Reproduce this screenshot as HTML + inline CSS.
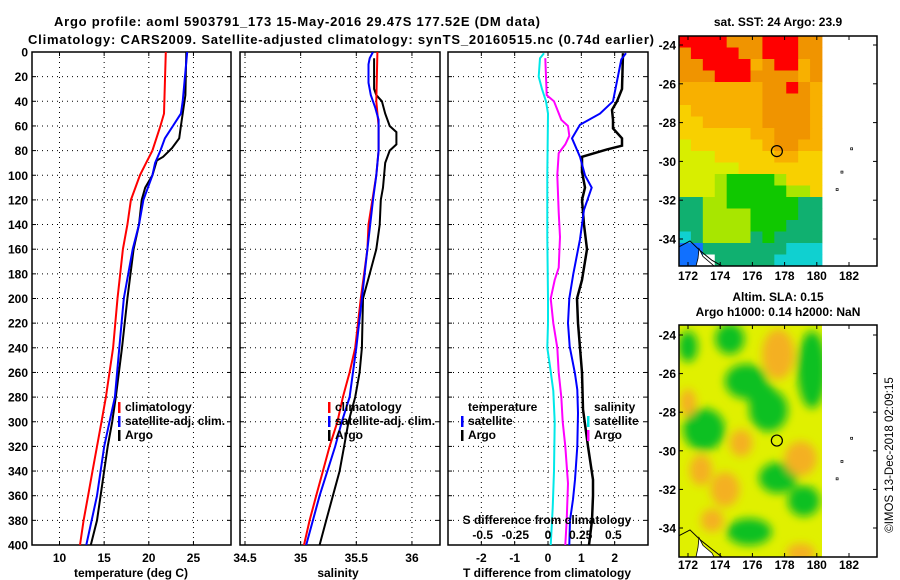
<!DOCTYPE html>
<html><head><meta charset="utf-8"><style>
html,body{margin:0;padding:0;background:#fff;}
svg{display:block;font-family:"Liberation Sans",sans-serif;font-weight:bold;}
</style></head><body>
<svg id="fig" width="900" height="580" viewBox="0 0 900 580" xmlns="http://www.w3.org/2000/svg">
<defs>
<clipPath id="c1"><rect x="32" y="52" width="199" height="493"/></clipPath>
<clipPath id="c2"><rect x="240" y="52" width="200" height="493"/></clipPath>
<clipPath id="c3"><rect x="448" y="52" width="200" height="493"/></clipPath>
<clipPath id="cm2"><rect x="679" y="325" width="143" height="232"/></clipPath>
<filter id="blur" x="-50%" y="-50%" width="200%" height="200%"><feGaussianBlur stdDeviation="4.5"/></filter>
</defs>
<text x="297" y="26" font-size="13" text-anchor="middle" textLength="486">Argo profile: aoml 5903791_173 15-May-2016 29.47S 177.52E (DM data)</text>
<text x="341" y="44" font-size="13" text-anchor="middle" textLength="626">Climatology: CARS2009. Satellite-adjusted climatology: synTS_20160515.nc (0.74d earlier)</text>
<g id="root"></g>
<text transform="translate(893,455) rotate(-90)" font-size="11.5" font-weight="normal" text-anchor="middle">©IMOS 13-Dec-2018 02:09:15</text>
</svg>
<script>
// ---------- data ----------
const depthTicks = [0,20,40,60,80,100,120,140,160,180,200,220,240,260,280,300,320,340,360,380,400];
const tTicks = [10,15,20,25];
const sTicks = [34.5,35,35.5,36];
const tdTicks = [-2,-1,0,1,2];
const sdTicks = [-0.5,-0.25,0,0.25,0.5];
const sdTickLabels = ["-0.5","-0.25","0","0.25","0.5"];

const tClimDepth = [0,50,60,80,90,100,110,120,140,160,200,240,260,280,300,320,340,360,380,400];
const tClim      = [21.9,21.7,21.3,20.4,19.7,19.0,18.5,18.0,17.6,17.1,16.5,16.0,15.6,15.2,14.7,14.2,13.7,13.2,12.7,12.3];
const tSatDepth = [0,40,50,60,70,80,90,100,120,140,160,200,240,280,300,320,360,400];
const tSat      = [24.3,23.8,23.6,22.7,21.8,21.3,20.7,20.4,19.4,18.9,18.2,17.2,16.7,16.2,15.6,15.0,14.2,13.0];
const tArgoDepth = [0,35,60,70,78,85,88,100,110,120,140,160,200,240,280,300,320,360,380,400];
const tArgo      = [24.2,24.1,23.6,23.4,22.6,21.6,20.9,20.4,19.6,19.2,18.9,18.3,17.6,17.0,16.3,15.9,15.4,14.6,14.2,13.5];

const sClimDepth = [0,40,60,80,100,140,160,200,240,260,280,300,320,340,360,380,400];
const sClim      = [35.69,35.68,35.70,35.70,35.68,35.61,35.60,35.54,35.49,35.44,35.38,35.33,35.26,35.20,35.14,35.08,35.03];
const sSatDepth = [0,5,10,25,35,45,55,80,100,120,160,200,240,280,300,320,360,400];
const sSat      = [35.65,35.62,35.61,35.61,35.63,35.67,35.70,35.70,35.68,35.65,35.60,35.55,35.50,35.44,35.37,35.31,35.17,35.05];
const sArgoDepth = [5,30,35,40,50,60,65,75,80,90,100,110,120,140,160,180,200,240,260,280,300,320,340,360,380,400];
const sArgo      = [35.66,35.66,35.68,35.73,35.76,35.80,35.86,35.86,35.80,35.76,35.75,35.74,35.72,35.71,35.68,35.62,35.56,35.55,35.53,35.49,35.43,35.39,35.35,35.29,35.23,35.17];

const dtSatDepth = [1,6,40,50,59,70,85,100,110,128,152,180,200,220,239,261,274,293,320,347,363,380,400];
const dtSat      = [2.34,2.2,1.95,1.56,0.96,0.72,0.96,1.11,1.31,1.08,0.96,0.76,0.64,0.6,0.65,0.81,0.88,0.9,0.88,0.81,0.75,0.66,0.64];
const dtArgoDepth = [1,30,40,47,55,62,70,76,79,85,97,110,120,130,140,160,185,200,220,240,260,290,320,347,360,380,400];
const dtArgo      = [2.25,2.22,2.07,1.92,1.95,1.95,2.22,2.22,1.77,1.02,1.02,1.11,1.02,1.05,1.08,1.17,1.02,0.87,0.9,0.96,1.02,1.05,1.2,1.35,1.35,1.32,1.23];
const dsSatDepth = [1,5,20,30,40,50,100,150,200,220,240,255,275,300,340,370,400];
const dsSat      = [-0.03,-0.06,-0.07,-0.045,-0.015,0,-0.005,-0.005,0,0,-0.005,0.015,0.04,0.05,0.045,0.035,0.02];
const dsArgoDepth = [5,20,35,40,55,60,68,75,82,100,130,150,175,185,200,220,240,260,280,300,320,350,380,400];
const dsArgo      = [-0.02,-0.015,-0.01,0.045,0.1,0.15,0.16,0.13,0.08,0.07,0.08,0.09,0.08,0.05,0.02,0.04,0.07,0.08,0.1,0.11,0.13,0.15,0.14,0.13];

const lonTicks = [172,174,176,178,180,182];
const latTicks = [-24,-26,-28,-30,-32,-34];
const argoLon = 177.52, argoLat = -29.47;
const sstTitle = "sat. SST: 24 Argo: 23.9";
const slaTitle1 = "Altim. SLA: 0.15";
const slaTitle2 = "Argo h1000: 0.14 h2000: NaN";
const sstGrid = [
"RRRROOORRROO","ORRRROORRROO","OORRRRoORRoO","OOORRROOOOoO",
"oooooooOOROo","oooooooOOOOo","YooooooOOOOo","YYoooooOOOOo",
"YYYYYYooOOOo","yYYYYYYoOOoo","yyyYYYYYooYY","yyyyyYYYYYYY",
"yyyLGGGGLYYY","yyyLGGGGGLLY","ggLLGGGGGGgg","ggLLLLGGGGgg",
"ggLLLLGGGggg","CgLLLLgGgggg","BBgggggggCCC","BBWgggggCCCC"];
const sstColors = {R:"#ff0000",O:"#f09400",o:"#f8b000",Y:"#f8d000",y:"#d8ee00",L:"#a8e600",G:"#10c800",g:"#10b070",C:"#10d0d0",B:"#1070ff",W:"#ffffff"};
const slaLon  = [173.0,175.6,177.0,179.7,174.6,177.6,179.2,175.8,172.0,176.6, 177.6,175.3,172.8,174.3,179.0,172.0,179.0,173.5];
const slaLat  = [-28.9,-26.4,-27.9,-25.8,-24.2,-31.4,-32.6,-34.2,-24.6,-27.2, -25.0,-29.6,-31.0,-32.0,-30.4,-27.5,-35.3,-33.6];
const slaRlon = [1.3,1.3,1.2,0.9,0.9,1.2,1.0,1.4,0.6,0.9, 1.0,0.7,0.7,0.9,1.0,0.5,0.9,0.7];
const slaRlat = [1.1,0.9,1.1,2.0,0.8,0.8,0.8,0.7,0.8,0.8, 1.3,0.7,0.8,0.9,0.9,0.7,0.5,0.6];
const slaKind = ["G","G","G","G","G","G","G","G","G","G","O","O","O","O","O","O","O","O"];

// ---------- helpers ----------
const NS="http://www.w3.org/2000/svg";
const root=document.getElementById('root');
function mk(tag,attrs,parent){const e=document.createElementNS(NS,tag);for(const k in attrs)e.setAttribute(k,attrs[k]);(parent||root).appendChild(e);return e;}
function txt(x,y,s,size,anchor,parent){const e=mk('text',{x:x,y:y,'font-size':size,'text-anchor':anchor||'middle'},parent);e.textContent=s;return e;}
const Y0=52,Y1=545;
const yD=d=>Y0+d*(Y1-Y0)/400;
const xT=t=>59.5+(t-10)*8.93;
const xS=s=>245+(s-34.5)*111.3;
const xDT=v=>548+v*33.33;
const xDS=v=>548+v*133.3;

function panel(x0,x1,name,labelsLeft){
  const g=mk('g',{});
  
  
  depthTicks.forEach(d=>{
    if(d>0&&d<400){const l=mk('line',{x1:x0,x2:x1,y1:yD(d),y2:yD(d),stroke:'#000','stroke-width':1,'stroke-dasharray':'1,4'},g);
      
      }
    mk('line',{x1:x0,x2:x0+4,y1:yD(d),y2:yD(d),stroke:'#000'},g);
    mk('line',{x1:x1-4,x2:x1,y1:yD(d),y2:yD(d),stroke:'#000'},g);
    if(labelsLeft){const t=txt(28,yD(d)+4.5,String(d),12,'end',g);
      
      }
  });
  const r=mk('rect',{x:x0,y:Y0,width:x1-x0,height:Y1-Y0,fill:'none',stroke:'#000','stroke-width':1.5},g);
  
  
  return g;
}
function vgrid(g,xs,fn){xs.forEach(v=>{const x=fn(v);
  const l=mk('line',{x1:x,x2:x,y1:Y0,y2:Y1,stroke:'#000','stroke-dasharray':'1,4'},g);
  
  
  mk('line',{x1:x,x2:x,y1:Y1-4,y2:Y1,stroke:'#000'},g);
  mk('line',{x1:x,x2:x,y1:Y0,y2:Y0+4,stroke:'#000'},g);});}
function series(g,depths,vals,fn,color,w,name,clip){
  const pts=depths.map((d,i)=>fn(vals[i]).toFixed(1)+','+yD(d).toFixed(1)).join(' ');
  const p=mk('polyline',{points:pts,fill:'none',stroke:color,'stroke-width':w,'clip-path':'url(#'+clip+')'},g);
  
  
}
function legendEntry(g,x,y,color,label,name){
  if(color)mk('rect',{x:x,y:y-9,width:2.5,height:11,fill:color},g);
  const t=txt(x+7,y,label,12,'start',g);
  
  
}

// ---------- panel 1 ----------
const g1=panel(32,231,'temperature-panel',true);
vgrid(g1,tTicks,xT);
tTicks.forEach(v=>{const t=txt(xT(v),562,String(v),12,'middle',g1);});
{const t=txt(131,577,'temperature (deg C)',12,'middle',g1);}
series(g1,tClimDepth,tClim,xT,'#ff0000',2,'temperature-climatology-line','c1');
series(g1,tArgoDepth,tArgo,xT,'#000',2,'temperature-argo-line','c1');
series(g1,tSatDepth,tSat,xT,'#0000ff',2,'temperature-satellite-line','c1');
legendEntry(g1,118,411,'#ff0000','climatology','legend-entry-climatology');
legendEntry(g1,118,425,'#0000ff','satellite-adj. clim.','legend-entry-satellite-adj');
legendEntry(g1,118,439,'#000','Argo','legend-entry-argo');

// ---------- panel 2 ----------
const g2=panel(240,440,'salinity-panel',false);
vgrid(g2,sTicks,xS);
sTicks.forEach(v=>{const t=txt(xS(v),562,String(v),12,'middle',g2);});
{const t=txt(338,577,'salinity',12,'middle',g2);}
series(g2,sArgoDepth,sArgo,xS,'#000',2,'salinity-argo-line','c2');
series(g2,sClimDepth,sClim,xS,'#ff0000',2,'salinity-climatology-line','c2');
series(g2,sSatDepth,sSat,xS,'#0000ff',2,'salinity-satellite-line','c2');
legendEntry(g2,328,411,'#ff0000','climatology','legend-entry-climatology');
legendEntry(g2,328,425,'#0000ff','satellite-adj. clim.','legend-entry-satellite-adj');
legendEntry(g2,328,439,'#000','Argo','legend-entry-argo');

// ---------- panel 3 ----------
const g3=panel(448,648,'difference-panel',false);
vgrid(g3,tdTicks,xDT);
tdTicks.forEach(v=>{const t=txt(xDT(v),562,String(v),12,'middle',g3);});
{const t=txt(547,577,'T difference from climatology',12,'middle',g3);}
series(g3,dsSatDepth,dsSat,xDS,'#00e8e8',2,'salinity-diff-satellite-line','c3');
series(g3,dsArgoDepth,dsArgo,xDS,'#ff00ff',2,'salinity-diff-argo-line','c3');
series(g3,dtArgoDepth,dtArgo,xDT,'#000',2.5,'temperature-diff-argo-line','c3');
series(g3,dtSatDepth,dtSat,xDT,'#0000ff',2,'temperature-diff-satellite-line','c3');
legendEntry(g3,461,411,null,'temperature','legend-title-temperature');
legendEntry(g3,461,425,'#0000ff','satellite','legend-entry-t-satellite');
legendEntry(g3,461,439,'#000','Argo','legend-entry-t-argo');
legendEntry(g3,587,411,null,'salinity','legend-title-salinity');
legendEntry(g3,587,425,'#00e8e8','satellite','legend-entry-s-satellite');
legendEntry(g3,587,439,'#ff00ff','Argo','legend-entry-s-argo');
{const t=txt(547,524,'S difference from climatology',12,'middle',g3);}
sdTicks.forEach((v,i)=>{const t=txt(548+v*133.3*0.98,539,sdTickLabels[i],12,'middle',g3);});

// ---------- maps ----------
const MX0=679,MX1=877,DX1=822;
const lonX=l=>688+(l-172)*16.1;
function mapFrame(lat24,sc,name,titleLines,titleYs){
  const latY=l=>lat24+(-24-l)*sc;
  const g=mk('g',{});
  
  
  titleLines.forEach((s,i)=>{const t=txt(778,titleYs[i],s,12,'middle',g);});
  return {g,latY};
}
const m1=mapFrame(45,19.4,'sst-map',[sstTitle],[26]);
{
  const cw=(DX1-MX0)/12, ch=(266-36)/20;
  sstGrid.forEach((row,r)=>{[...row].forEach((c,k)=>{
    const cell=mk('rect',{x:(MX0+k*cw).toFixed(2),y:(36+r*ch).toFixed(2),width:(cw+0.4).toFixed(2),height:(ch+0.4).toFixed(2),fill:sstColors[c]},m1.g);
    
    
  });});
}
const m2=mapFrame(335,19.3,'sla-map',[slaTitle1,slaTitle2],[301,316]);
{
  const bg=mk('rect',{x:MX0,y:325,width:DX1-MX0,height:232,fill:'#e0f000'},m2.g);
  
  
  const bl=mk('g',{'clip-path':'url(#cm2)'},m2.g);
  const bf=mk('g',{filter:'url(#blur)'},bl);
  slaLon.forEach((lo,i)=>{
    const e=mk('ellipse',{cx:lonX(lo),cy:m2.latY(slaLat[i]),rx:slaRlon[i]*16.1,ry:slaRlat[i]*19.3,fill:slaKind[i]==='G'?'#10c020':'#f4b020'},bf);
    
    
  });
}
[[m1,36,266,45,19.4,280],[m2,325,557,335,19.3,569]].forEach(([m,top,bot,y24,sc,ly])=>{
  const g=m.g, latY=l=>y24+(-24-l)*sc;
  mk('path',{d:`M679,${latY(-34.4)} L690,${latY(-34.1)} L700,${latY(-34.6)} L712,${latY(-35.1)} L722,${bot} L679,${bot} Z`,fill:'none',stroke:'#000'},g);
  const land=mk('path',{d:`M699,${latY(-34.5)} L703,${latY(-34.9)} L712,${latY(-35.3)} L714,${bot} L696,${bot} L698,${latY(-35.0)} Z`,fill:'#fff',stroke:'#000','stroke-width':0.8},g);
  
  
  mk('rect',{x:MX0,y:top,width:MX1-MX0,height:bot-top,fill:'none',stroke:'#000','stroke-width':1.5},g);
  [[182.1,-29.3],[181.5,-30.5],[181.2,-31.4]].forEach(p=>mk('rect',{x:lonX(p[0]),y:latY(p[1]),width:2,height:2,fill:'none',stroke:'#000','stroke-width':0.7},g));
  lonTicks.forEach(l=>{const x=lonX(l);
    mk('line',{x1:x,x2:x,y1:top,y2:top+4,stroke:'#000'},g);
    mk('line',{x1:x,x2:x,y1:bot-4,y2:bot,stroke:'#000'},g);
    const t=txt(x,ly,String(l),12,'middle',g);});
  latTicks.forEach(l=>{const y=latY(l);
    mk('line',{x1:MX0,x2:MX0+4,y1:y,y2:y,stroke:'#000'},g);
    mk('line',{x1:MX1-4,x2:MX1,y1:y,y2:y,stroke:'#000'},g);
    const t=txt(676,y+4.5,String(l),12,'end',g);});
  const c=mk('circle',{cx:lonX(argoLon),cy:latY(argoLat),r:5.5,fill:'none',stroke:'#000','stroke-width':1.2},g);
  
  
});
</script>
</body></html>
